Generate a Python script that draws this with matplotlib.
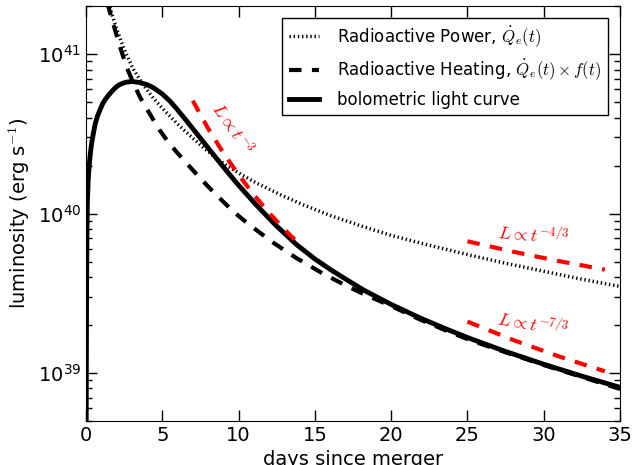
import numpy as np
import matplotlib
matplotlib.use('Agg')
import matplotlib.pyplot as plt

plt.rcParams['mathtext.fontset'] = 'cm'
plt.rcParams['font.family'] = 'DejaVu Sans'

# radioactive power Q_e(t) (log10 L)
t_power = [1.4, 1.7, 2.0, 2.5, 3.1, 3.7, 4.4, 5.2, 5.96, 6.8, 7.67, 8.5, 9.4, 10.2, 11.1,
           12.7, 14.3, 16.0, 18.0, 20.0, 22.0, 23.7, 25.2, 27.5, 30.0, 32.5, 35.0]
logL_power = [41.35, 41.25, 41.16, 41.03, 40.905, 40.815, 40.725, 40.64, 40.565, 40.49,
              40.415, 40.35, 40.29, 40.243, 40.195, 40.12, 40.052, 39.988, 39.923, 39.863,
              39.813, 39.773, 39.738, 39.688, 39.638, 39.588, 39.543]

# radioactive heating Q_e(t) x f(t)
t_heat = [1.4, 1.7, 2.0, 2.35, 2.7, 3.1, 3.54, 4.0, 4.4, 4.85, 5.3, 5.9, 6.6, 7.1, 7.67,
          8.4, 9.2, 10.0, 10.7, 12.2, 13.8, 15.5, 17.0, 18.2, 20.0, 21.9, 23.5, 25.2,
          27.5, 30.0, 32.5, 35.0]
logL_heat = [41.32, 41.22, 41.12, 41.01, 40.91, 40.82, 40.73, 40.655, 40.59, 40.52, 40.46,
             40.39, 40.315, 40.262, 40.203, 40.13, 40.055, 39.985, 39.93, 39.822, 39.72,
             39.625, 39.55, 39.495, 39.42, 39.335, 39.27, 39.205, 39.13, 39.05, 38.975, 38.90]

# bolometric light curve
t_bol = [0.0, 0.02, 0.04, 0.06, 0.09, 0.14, 0.2, 0.28, 0.37, 0.48, 0.6, 0.75, 0.92, 1.1,
         1.3, 1.55, 1.78, 2.0, 2.23, 2.6, 3.0, 3.5, 4.0, 4.4, 5.0, 5.5, 5.96, 6.6, 7.27,
         8.0, 8.8, 9.4, 9.96, 11.1, 12.4, 13.8, 15.0, 16.0, 17.0, 18.2, 20.0, 21.9, 23.5,
         25.2, 27.5, 30.0, 32.5, 35.0]
logL_bol = [38.0, 38.9, 39.5, 39.85, 40.06, 40.2, 40.29, 40.37, 40.44, 40.50, 40.56, 40.61,
            40.65, 40.69, 40.72, 40.75, 40.775, 40.795, 40.81, 40.823, 40.828, 40.822,
            40.808, 40.79, 40.75, 40.705, 40.655, 40.58, 40.50, 40.412, 40.316, 40.246,
            40.182, 40.06, 39.93, 39.805, 39.715, 39.65, 39.59, 39.52, 39.43, 39.345, 39.28,
            39.215, 39.135, 39.055, 38.98, 38.91]

# power-law guides
t_g3 = [7, 8, 9, 10, 11, 12, 13, 14]
L_g3 = [5.1e40, 3.42e40, 2.40e40, 1.75e40, 1.31e40, 1.01e40, 7.96e39, 6.4e39]
t_g43 = [25, 28, 31, 34]
L_g43 = [6.7e39, 5.76e39, 5.03e39, 4.45e39]
t_g73 = [25, 28, 31, 34]
L_g73 = [2.1e39, 1.61e39, 1.27e39, 1.025e39]

fig = plt.figure(figsize=(6.34, 4.65), dpi=100)
ax = fig.add_axes([0.1356, 0.0946, 0.978 - 0.1356, 0.987 - 0.0946])

ax.plot(t_power, 10**np.array(logL_power), color='k', lw=2.5, ls=(0, (0.4, 0.8)),
        label=r'Radioactive Power, $\dot{Q}_e(t)$')
ax.plot(t_heat, 10**np.array(logL_heat), color='k', lw=3, ls=(0, (3, 2.5)),
        label=r'Radioactive Heating, $\dot{Q}_e(t)\times f(t)$')
ax.plot(t_bol, 10**np.array(logL_bol), color='k', lw=3.5,
        label='bolometric light curve')

ax.plot(t_g3, L_g3, color='r', lw=3, ls=(0, (3, 2.5)))
ax.plot(t_g43, L_g43, color='r', lw=3, ls=(0, (3, 2.5)))
ax.plot(t_g73, L_g73, color='r', lw=3, ls=(0, (3, 2.5)))

ax.text(9.55, 3.4e40, r'$L\propto t^{-3}$', color='r', fontsize=13, rotation=-55,
        ha='center', va='center')
ax.text(29.3, 7.4e39, r'$L\propto t^{-4/3}$', color='r', fontsize=13, rotation=-5,
        ha='center', va='center')
ax.text(29.3, 2.05e39, r'$L\propto t^{-7/3}$', color='r', fontsize=13, rotation=-10,
        ha='center', va='center')

ax.set_yscale('log')
ax.set_xlim(0, 35)
ax.set_ylim(5e38, 2e41)
ax.set_xticks([0, 5, 10, 15, 20, 25, 30, 35])
ax.tick_params(which='both', direction='in', top=True, right=True, labelsize=14)
ax.tick_params(which='major', length=8, width=1)
ax.tick_params(which='minor', length=4, width=1)
ax.set_xlabel('days since merger', fontsize=14)
ax.set_ylabel(r'luminosity (erg s$^{-1}$)', fontsize=14)

leg = ax.legend(loc='upper right', fontsize=12, fancybox=False, handlelength=1.8,
                handletextpad=1.1, borderaxespad=0.7)
leg.get_frame().set_edgecolor('k')
leg.get_frame().set_alpha(1)

fig.savefig('out.png', dpi=100)
